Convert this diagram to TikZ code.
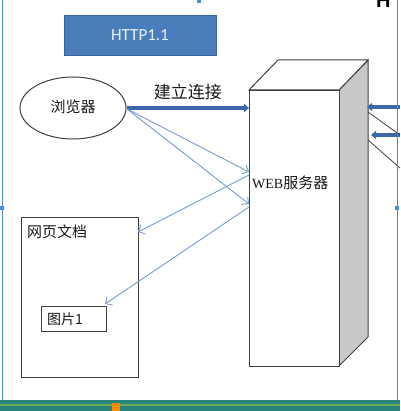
\documentclass[tikz,border=0pt]{standalone}
\usepackage{fontspec}
\setmainfont{Liberation Sans}
\newfontfamily\cjk{Noto Sans CJK SC}
\newfontfamily\calfont{Carlito}
\usetikzlibrary{arrows.meta,calc,shapes.geometric}
\definecolor{hbox}{RGB}{74,126,187}
\definecolor{hborder}{RGB}{56,100,160}
\definecolor{thick}{RGB}{58,104,168}
\definecolor{thin}{RGB}{120,156,206}
\definecolor{frame}{RGB}{70,140,220}
\definecolor{side}{RGB}{200,200,200}
\definecolor{band}{RGB}{38,132,122}
\tikzset{
  shapeline/.style={draw=black!75,line width=1pt},
  thickarrow/.style={draw=thick,line width=3.4pt,-{Triangle[length=5pt,width=8pt]}},
  thinarrow/.style={draw=thin,line width=0.9pt,-{Straight Barb[length=5pt,width=10pt]}},
  cjktext/.style={font=\cjk\fontsize{15}{15}\selectfont,text=black!90}
}
\begin{document}
\begin{tikzpicture}[x=1pt,y=-1pt]
\useasboundingbox (0,0) rectangle (400,411);
\clip (0,0) rectangle (400,411);
\fill[white] (0,0) rectangle (400,411);
% bottom band
\fill[band] (0,400) rectangle (400,411);
\fill[band!70!yellow] (0,404) rectangle (400,406);
\fill[orange!90!yellow] (112,403) rectangle (120,411);
\fill[white] (4,0) rectangle (396,400);
% selection frame
\draw[frame,line width=0.8pt] (2,0) -- (2,400);
\fill[frame] (0,206) rectangle (4,210);
\fill[frame] (395,206) rectangle (399,210);
\fill[frame] (197,0) rectangle (201,3);
% H cut off
\node[anchor=base west,inner sep=0pt,font=\bfseries\fontsize{20}{20}\selectfont] (hh) at (376,8) {H};
% HTTP box
\node[draw=hborder,fill=hbox,line width=0.8pt,minimum width=152pt,minimum height=40pt,inner sep=0pt,
  text=white!88!hbox,font=\calfont\fontsize{17}{17}\selectfont] (http) at (140,35) {HTTP1.1};
% browser
\node[shapeline,ellipse,minimum width=106pt,minimum height=62pt,inner sep=0pt,cjktext] (br) at (73,108) {\raisebox{3pt}{浏览器}};
% server
\fill[side,draw=black!75,line width=1pt] (339,90) -- (368,60) -- (368,337) -- (339,366) -- cycle;
\draw[shapeline,fill=white] (249,90) -- (278,60) -- (368,60) -- (339,90) -- cycle;
\node[shapeline,fill=white,minimum width=90pt,minimum height=276pt,inner sep=0pt,anchor=north west] (srv) at (249,90) {};
\node[cjktext,anchor=west,inner sep=0pt] (srvlabel) at (252,183) {\fontspec{Liberation Serif}\fontsize{14}{14}\selectfont WEB\cjk\fontsize{15}{15}\selectfont 服务器};
% document
\node[shapeline,minimum width=117pt,minimum height=160pt,inner sep=0pt,anchor=north west] (doc) at (21,217) {};
\node[cjktext,anchor=west,inner sep=0pt] (doclabel) at (27,232) {网页文档};
\node[shapeline,minimum width=65pt,minimum height=25pt,inner sep=0pt,anchor=north west] (img) at (41,306) {};
\node[cjktext,anchor=west,inner sep=0pt,font=\cjk\fontsize{14}{14}\selectfont] (imglabel) at (47,319) {图片1};
% coordinates on server face
\coordinate (b0) at (127,109);
\coordinate (s1) at (249,172);
\coordinate (s2) at (249,204);
\coordinate (s1b) at (249,175);
\coordinate (s2b) at (249,207);
\coordinate (d1) at (138,232);
\coordinate (i1) at (105,304);
% thick connection
\draw[thickarrow] (br.east) -- (srv.north west |- br.east)
  node[midway,above=3pt,cjktext,font=\cjk\fontsize{17}{17}\selectfont] (conn) {建立连接};
% thin arrows
\draw[thinarrow] (b0) -- (s1);
\draw[thinarrow] (b0) -- (s2);
\draw[thinarrow] (s1b) -- (d1);
\draw[thinarrow] (s2b) -- (i1);
% right cut-off elements
\coordinate (r1) at (400,107);
\coordinate (r2) at (400,135);
\coordinate (e1) at (367,107);
\coordinate (e2) at (371,135);
\draw[thickarrow] (r1) -- (e1);
\draw[thickarrow] (r2) -- (e2);
\coordinate (l1a) at (368,112);
\coordinate (l1b) at (400,135);
\coordinate (l2a) at (368,140);
\coordinate (l2b) at (400,168);
\draw[black!75,line width=0.8pt] (l1a) -- (l1b);
\draw[black!75,line width=0.8pt] (l2a) -- (l2b);
\draw[frame,line width=0.8pt] (397,0) -- (397,400);
\end{tikzpicture}
\end{document}
